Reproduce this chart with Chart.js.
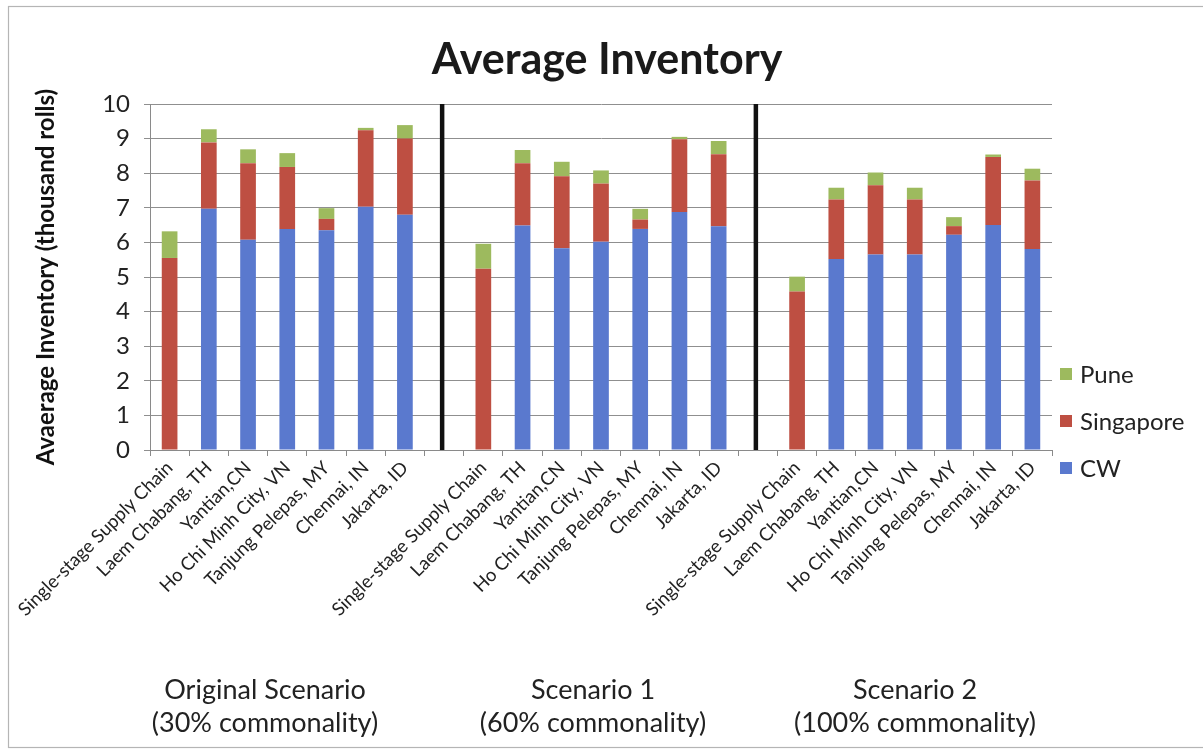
<!DOCTYPE html>
<html>
<head>
<meta charset="utf-8">
<title>Average Inventory</title>
<script src="https://cdn.jsdelivr.net/npm/chart.js@4.4.1/dist/chart.umd.min.js"></script>
<style>
  html, body { margin: 0; padding: 0; background: #fff; }
  #wrap { width: 1203px; height: 751px; position: relative; }
</style>
</head>
<body>
<div id="wrap"><canvas id="chart" width="1203" height="751"></canvas></div>
<script>
// Locations compared in every scenario
const locations = [
  'Single-stage Supply Chain', 'Laem Chabang, TH', 'Yantian,CN',
  'Ho Chi Minh City, VN', 'Tanjung Pelepas, MY', 'Chennai, IN', 'Jakarta, ID'
];
// Three scenarios side by side, separated by an empty slot
const categories = [...locations, '', ...locations, '', ...locations];

// Average inventory in thousand rolls (null = separator slot)
const cw = [
  0, 6.97, 6.08, 6.39, 6.35, 7.03, 6.80, null,
  0, 6.49, 5.83, 6.02, 6.39, 6.88, 6.47, null,
  0, 5.52, 5.65, 5.65, 6.22, 6.50, 5.81
];
const singapore = [
  5.55, 1.92, 2.21, 1.79, 0.33, 2.21, 2.20, null,
  5.24, 1.80, 2.08, 1.68, 0.27, 2.10, 2.08, null,
  4.58, 1.72, 2.00, 1.59, 0.25, 1.97, 1.98
];
const pune = [
  0.77, 0.38, 0.40, 0.40, 0.31, 0.07, 0.39, null,
  0.72, 0.38, 0.42, 0.38, 0.31, 0.07, 0.38, null,
  0.43, 0.34, 0.37, 0.34, 0.26, 0.07, 0.34
];

const yTicks = [0, 1, 2, 3, 4, 5, 6, 7, 8, 9, 10];
const separatorSlots = [7, 15];
const scenarioLabels = [
  ['Original Scenario', '(30% commonality)'],
  ['Scenario 1', '(60% commonality)'],
  ['Scenario 2', '(100% commonality)']
];
const scenarioCenters = [265, 593, 915];

const FONT = 'Lato, "Open Sans", "DejaVu Sans", sans-serif';
const COLORS = { cw: '#5A79CE', singapore: '#BE4F42', pune: '#9DBA5E' };

const decorations = {
  id: 'decorations',
  beforeDraw(chart) {
    const ctx = chart.ctx;
    ctx.save();
    ctx.fillStyle = '#fff';
    ctx.fillRect(0, 0, chart.width, chart.height);
    ctx.strokeStyle = '#b5b5b5';
    ctx.lineWidth = 1.2;
    ctx.strokeRect(8.5, 6.5, 1200, 741);
    ctx.restore();
  },
  afterDatasetsDraw(chart) {
    const ctx = chart.ctx;
    const x = chart.scales.x;
    const area = chart.chartArea;
    ctx.save();
    ctx.strokeStyle = '#111';
    ctx.lineWidth = 4.5;
    separatorSlots.forEach(i => {
      const px = x.getPixelForValue(i) - 2;
      ctx.beginPath();
      ctx.moveTo(px, area.top);
      ctx.lineTo(px, area.bottom);
      ctx.stroke();
    });
    ctx.restore();
  },
  afterDraw(chart) {
    const ctx = chart.ctx;
    ctx.save();
    // Chart title
    ctx.fillStyle = '#1a1a1a';
    ctx.textAlign = 'center';
    ctx.textBaseline = 'alphabetic';
    ctx.font = 'bold 43px ' + FONT;
    ctx.fillText('Average Inventory', 607, 74);

    // Scenario captions under the category labels
    ctx.font = '27px ' + FONT;
    ctx.fillStyle = '#222';
    scenarioLabels.forEach((lines, i) => {
      ctx.fillText(lines[0], scenarioCenters[i], 699);
      ctx.fillText(lines[1], scenarioCenters[i], 732);
    });

    // Legend, top series first
    const items = chart.data.datasets.slice().reverse();
    ctx.textAlign = 'left';
    ctx.textBaseline = 'middle';
    ctx.font = '24px ' + FONT;
    items.forEach((ds, i) => {
      const cy = 374 + i * 47;
      ctx.fillStyle = ds.backgroundColor;
      ctx.fillRect(1060, cy - 6, 12, 12);
      ctx.fillStyle = '#222';
      ctx.fillText(ds.label, 1080, cy + 1);
    });
    ctx.restore();
  }
};

new Chart(document.getElementById('chart'), {
  type: 'bar',
  data: {
    labels: categories,
    datasets: [
      { label: 'CW', data: cw, backgroundColor: COLORS.cw },
      { label: 'Singapore', data: singapore, backgroundColor: COLORS.singapore },
      { label: 'Pune', data: pune, backgroundColor: COLORS.pune }
    ]
  },
  options: {
    responsive: false,
    animation: false,
    layout: { padding: { left: 8, top: 104, right: 151, bottom: 0 } },
    datasets: { bar: { barPercentage: 0.4, categoryPercentage: 1.0 } },
    plugins: {
      legend: { display: false },
      title: { display: false },
      tooltip: { enabled: false }
    },
    scales: {
      x: {
        stacked: true,
        offset: true,
        afterFit(scale) { scale.height = 301; },
        grid: { display: true, drawOnChartArea: false, offset: true, tickLength: 6, color: '#8a8a8a' },
        border: { display: true, color: '#8a8a8a', width: 1 },
        ticks: {
          autoSkip: false, minRotation: 45, maxRotation: 45, padding: 1,
          color: '#222', font: { family: FONT, size: 18.5 }
        }
      },
      y: {
        stacked: true,
        min: 0,
        max: 10,
        afterFit(scale) { scale.width = 142; },
        afterBuildTicks(scale) { scale.ticks = yTicks.map(v => ({ value: v })); },
        grid: { color: '#8f8f8f', lineWidth: 1, tickLength: 6 },
        border: { display: true, color: '#8a8a8a', width: 1 },
        ticks: { padding: 14, color: '#222', font: { family: FONT, size: 24 } },
        title: {
          display: true,
          text: 'Avaerage Inventory (thousand rolls)',
          color: '#111',
          font: { family: FONT, size: 24, weight: 'bold' },
          padding: { top: 24, bottom: 0 }
        }
      }
    }
  },
  plugins: [decorations]
});
</script>
</body>
</html>
